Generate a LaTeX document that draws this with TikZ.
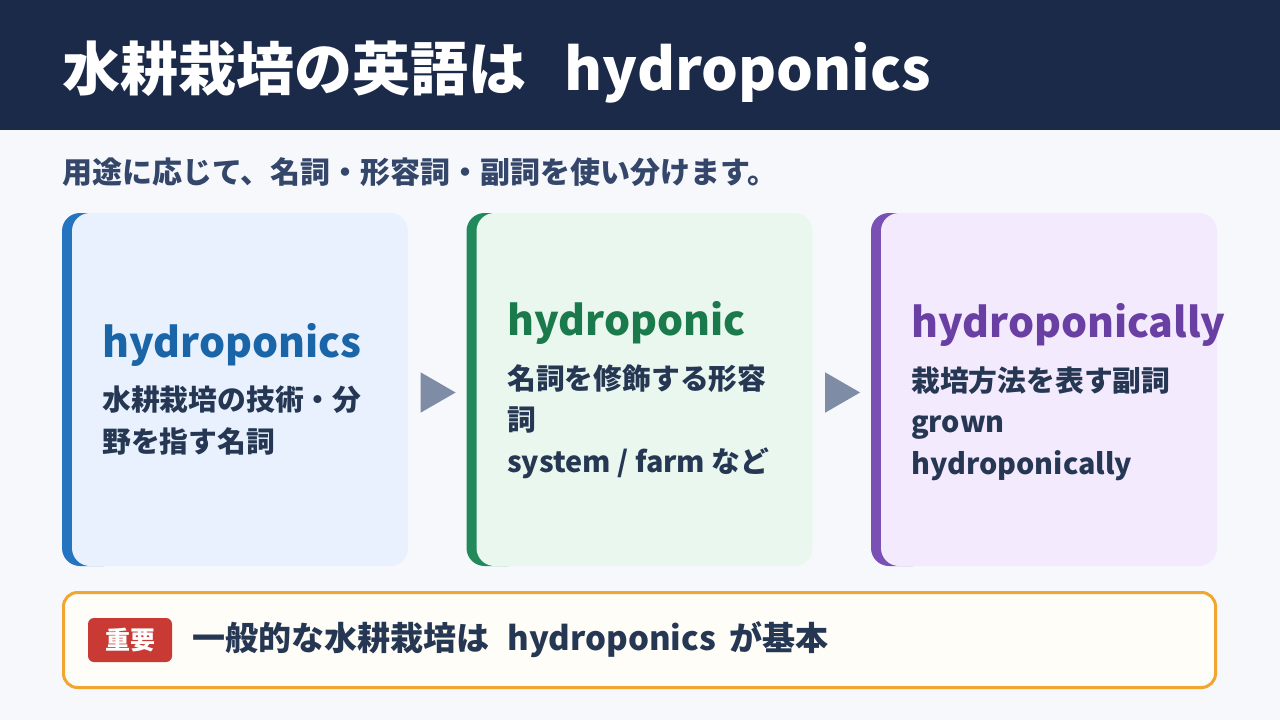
\documentclass[tikz,border=0pt]{standalone}
\usepackage{fontspec}
\setmainfont{Noto Sans CJK JP}
\usetikzlibrary{positioning,shapes.geometric,calc}

\definecolor{pagebg}{HTML}{F6F8FC}
\definecolor{headnavy}{HTML}{1C2A4A}
\definecolor{inkdark}{HTML}{263754}
\definecolor{subink}{HTML}{34466A}
\definecolor{blueacc}{HTML}{2474C0}
\definecolor{bluebg}{HTML}{E8F1FD}
\definecolor{bluehead}{HTML}{1A64A8}
\definecolor{greenacc}{HTML}{228A5A}
\definecolor{greenbg}{HTML}{E9F7EF}
\definecolor{greenhead}{HTML}{1B7A4B}
\definecolor{purpacc}{HTML}{7B50B5}
\definecolor{purpbg}{HTML}{F4EAFD}
\definecolor{purphead}{HTML}{6A3FA3}
\definecolor{arrowgray}{HTML}{7F8CA6}
\definecolor{notebg}{HTML}{FEFDF7}
\definecolor{noteedge}{HTML}{F0A630}
\definecolor{badgered}{HTML}{C93A35}

\tikzset{
  cardbox/.style={minimum width=346pt, minimum height=353pt, inner sep=0pt},
  cardedge/.style={rounded corners=18pt, minimum width=60pt, minimum height=353pt, inner sep=0pt, anchor=west},
  cardfill/.style={rounded corners=18pt, minimum width=336pt, minimum height=353pt, inner sep=0pt, anchor=east},
  cardhead/.style={anchor=base west, inner sep=0pt, font=\bfseries\fontsize{41}{48}\selectfont},
  cardtext/.style={anchor=north west, inner sep=0pt, align=left, text=inkdark,
    font=\bfseries\fontsize{28.8}{41.5}\selectfont},
  flowarrow/.style={isosceles triangle, isosceles triangle apex angle=60, fill=arrowgray,
    inner sep=0pt, minimum height=35pt, minimum width=40pt},
}

\begin{document}
\begin{tikzpicture}[x=1pt, y=-1pt]
  % page and header band
  \useasboundingbox (0,0) rectangle (1280,720);
  \fill[pagebg] (0,0) rectangle (1280,720);
  \fill[headnavy] (0,0) rectangle (1280,130);
  \node[anchor=base west, inner sep=0pt, text=white, font=\bfseries\fontsize{58}{62}\selectfont]
    (title) at (62,90) {水耕栽培の英語は\hspace{0.66em}hydroponics};
  \node[anchor=base west, inner sep=0pt, text=subink, font=\bfseries\fontsize{30}{34}\selectfont]
    (subtitle) at (62,183) {用途に応じて、名詞・形容詞・副詞を使い分けます。};

  % three cards
  \node[cardbox] (card1) at (235,389.5) {};
  \node[cardedge, fill=blueacc] at (card1.west) {};
  \node[cardfill, fill=bluebg] at (card1.east) {};
  \node[cardbox] (card2) at (639.5,389.5) {};
  \node[cardedge, fill=greenacc] at (card2.west) {};
  \node[cardfill, fill=greenbg] at (card2.east) {};
  \node[cardbox] (card3) at (1044,389.5) {};
  \node[cardedge, fill=purpacc] at (card3.west) {};
  \node[cardfill, fill=purpbg] at (card3.east) {};

  % card texts
  \node[cardhead, text=bluehead] (head1) at (102,357) {hydroponics};
  \node[cardtext] (text1) at (102,386) {水耕栽培の技術・分\\野を指す名詞};
  \node[cardhead, text=greenhead] (head2) at (507,335) {hydroponic};
  \node[cardtext] (text2) at (507,364) {名詞を修飾する形容\\詞\\system / farm など};
  \node[cardhead, text=purphead] (head3) at (911,337) {hydroponically};
  \node[cardtext] (text3) at (911,366) {栽培方法を表す副詞\\grown\\hydroponically};

  % arrows between cards
  \node[flowarrow, xshift=-5pt, yshift=-3pt] (arr1) at ($(card1.east)!0.5!(card2.west)$) {};
  \node[flowarrow, xshift=-5pt, yshift=-3pt] (arr2) at ($(card2.east)!0.5!(card3.west)$) {};

  % note box
  \node[draw=noteedge, line width=3pt, fill=notebg, rounded corners=14pt,
    minimum width=1152pt, minimum height=95pt, inner sep=0pt] (note) at (639.5,640) {};
  \node[fill=badgered, rounded corners=6pt, minimum width=84pt, minimum height=44pt, inner sep=0pt,
    text=white, font=\bfseries\fontsize{25}{28}\selectfont] (badge) at (130,640) {重要};
  \node[right=20pt of badge, inner sep=0pt, text=inkdark, font=\bfseries\fontsize{33}{36}\selectfont]
    (notetext) {一般的な水耕栽培は\hspace{0.55em}hydroponics\hspace{0.42em}が基本};
\end{tikzpicture}
\end{document}
